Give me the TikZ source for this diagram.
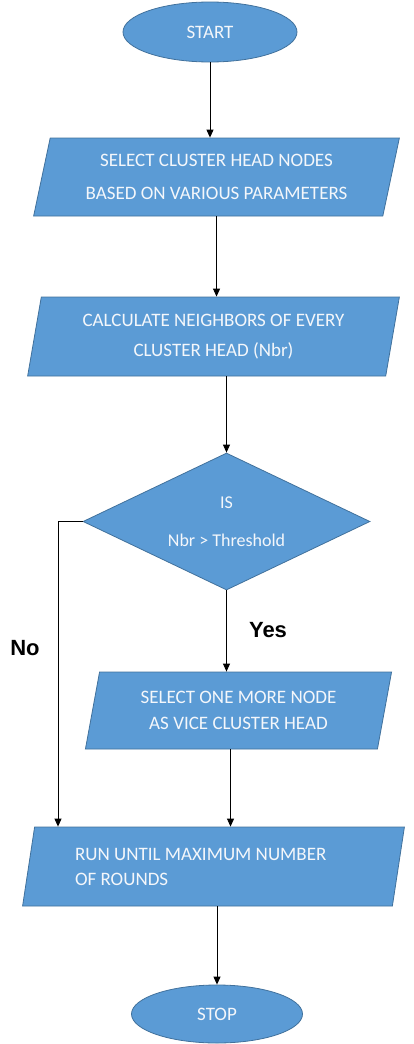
\documentclass[tikz,border=0pt]{standalone}
\usepackage{fontspec}
\setmainfont{Carlito}
\newfontfamily\labelfont{Liberation Sans}
\usetikzlibrary{shapes.geometric,arrows.meta}
\definecolor{boxfill}{HTML}{5B9BD5}
\definecolor{boxline}{HTML}{41719C}
\definecolor{boxtext}{HTML}{F4F7FB}
\tikzset{
  x=1pt, y=-1pt,
  flowbase/.style={fill=boxfill, draw=boxline, line width=0.8pt, text=boxtext,
    font=\fontsize{19}{33}\selectfont, inner sep=0pt},
  terminal/.style={flowbase, ellipse},
  iobox/.style={flowbase, trapezium, trapezium stretches=true,
    trapezium left angle=#1, trapezium right angle=180-#1},
  decision/.style={flowbase, diamond, aspect=2.1},
  flowarrow/.style={draw=black, line width=0.9pt, -{Triangle[width=7pt,length=8pt]}},
  branchlabel/.style={font=\labelfont\bfseries\fontsize{22}{24}\selectfont, text=black},
}
\begin{document}
\begin{tikzpicture}
\useasboundingbox (0,0) rectangle (414,1044);

% process shapes
\node[terminal, minimum width=174pt, minimum height=60pt] (start) at (210,32) {START};
\node[iobox=74, minimum width=367pt, minimum height=78pt, align=center] (p1) at (216.5,177)
  {SELECT CLUSTER HEAD NODES\\BASED ON VARIOUS PARAMETERS};
\node[iobox=77, minimum width=373pt, minimum height=79pt, align=center,
  font=\fontsize{19}{30}\selectfont] (p2) at (213.5,336.5)
  {CALCULATE NEIGHBORS OF EVERY\\CLUSTER HEAD (Nbr)};
\node[decision, minimum width=287pt, minimum height=137pt, align=center,
  font=\fontsize{18}{38}\selectfont] (dia) at (226.5,521.5)
  {IS\\Nbr > Threshold};
\node[iobox=75.5, minimum width=307pt, minimum height=77pt, align=center,
  font=\fontsize{19}{26}\selectfont] (p3) at (238.5,710.5)
  {SELECT ONE MORE NODE\\AS VICE CLUSTER HEAD};
\node[iobox=76, minimum width=383pt, minimum height=79pt, align=flush left, text width=277pt,
  font=\fontsize{19}{25}\selectfont] (p4) at (213.5,866.5)
  {RUN UNTIL MAXIMUM NUMBER\\OF ROUNDS};
\node[terminal, minimum width=171pt, minimum height=58pt] (stop) at (217,1014) {STOP};

% connectors
\draw[flowarrow] (start.south) -- (start.south |- p1.north);
\draw[flowarrow] (p1.south) -- (p1.south |- p2.north);
\draw[flowarrow] (p2.south -| dia.north) -- (dia.north);
\draw[flowarrow] (dia.south) -- (dia.south |- p3.north);
\draw[flowarrow] ([xshift=-8pt]p3.south) -- ([xshift=-8pt]p3.south |- p4.north);
\draw[flowarrow] (stop.north |- p4.south) -- (stop.north);

\coordinate (nobend) at (58,521.5);
\draw[flowarrow] (dia.west) -- (nobend) -- (nobend |- p4.north);

% branch labels
\node[branchlabel] (yes) at (268,630) {Yes};
\node[branchlabel] (no) at (25,648) {No};
\end{tikzpicture}
\end{document}
